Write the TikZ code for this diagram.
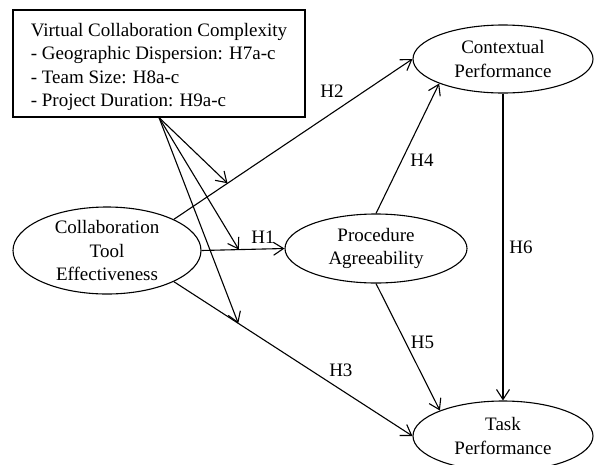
\documentclass[tikz,border=0pt]{standalone}
\usepackage{fontspec}
\setmainfont{Liberation Serif}
\usetikzlibrary{arrows.meta,shapes.geometric}

\begin{document}
\begin{tikzpicture}[x=1pt,y=-1pt,>={Straight Barb[length=10pt,width=13pt]},line width=1.1pt,
    font=\fontsize{19}{23.5}\selectfont,
    construct/.style={ellipse,draw,inner sep=-4pt,align=center},
    modbox/.style={rectangle,draw,inner sep=0pt,align=left,minimum width=292pt,minimum height=107pt},
    hlabel/.style={inner sep=0pt,anchor=center}]
    \useasboundingbox (0,0) rectangle (594,464);

    \node[modbox] (vcc) at (159,63.5) {\rule{0pt}{20pt}Virtual Collaboration Complexity\\- Geographic Dispersion: H7a-c\\- Team Size: H8a-c\\- Project Duration: H9a-c};
    \node[construct,minimum width=188pt,minimum height=87pt] (cte) at (107,250.5) {Collaboration\\Tool\\Effectiveness};
    \node[construct,minimum width=182pt,minimum height=69pt] (pa) at (376,248.5) {Procedure\\Agreeability};
    \node[construct,minimum width=180pt,minimum height=68pt] (cp) at (503,59) {Contextual\\Performance};
    \node[construct,minimum width=180pt,minimum height=70pt] (tp) at (503,436) {Task\\Performance};

    \path[->] (cte.east) edge node[coordinate,pos=.45] (m1) {} node[hlabel,pos=.74,yshift=12pt] (h1) {H1} (pa.west);
    \path[->] (cte.25) edge node[coordinate,pos=.225] (m2) {} node[hlabel,pos=.6625,yshift=22pt] (h2) {H2} (cp.west);
    \path[->] (cte.-25) edge node[coordinate,pos=.27] (m3) {} node[hlabel,pos=.7,yshift=19.5pt] (h3) {H3} (tp.west);
    \path[->] (pa.north) edge node[hlabel,pos=.41,xshift=20pt] (h4) {H4} (cp.201);
    \path[->] (pa.south) edge node[hlabel,pos=.46,xshift=17pt] (h5) {H5} (tp.158);
    \path[->] (cp.south) edge node[hlabel,pos=.5,xshift=18pt] (h6) {H6} (tp.north);

    \path[->] (vcc.south) edge (m2) edge (m1) edge (m3);
\end{tikzpicture}
\end{document}
